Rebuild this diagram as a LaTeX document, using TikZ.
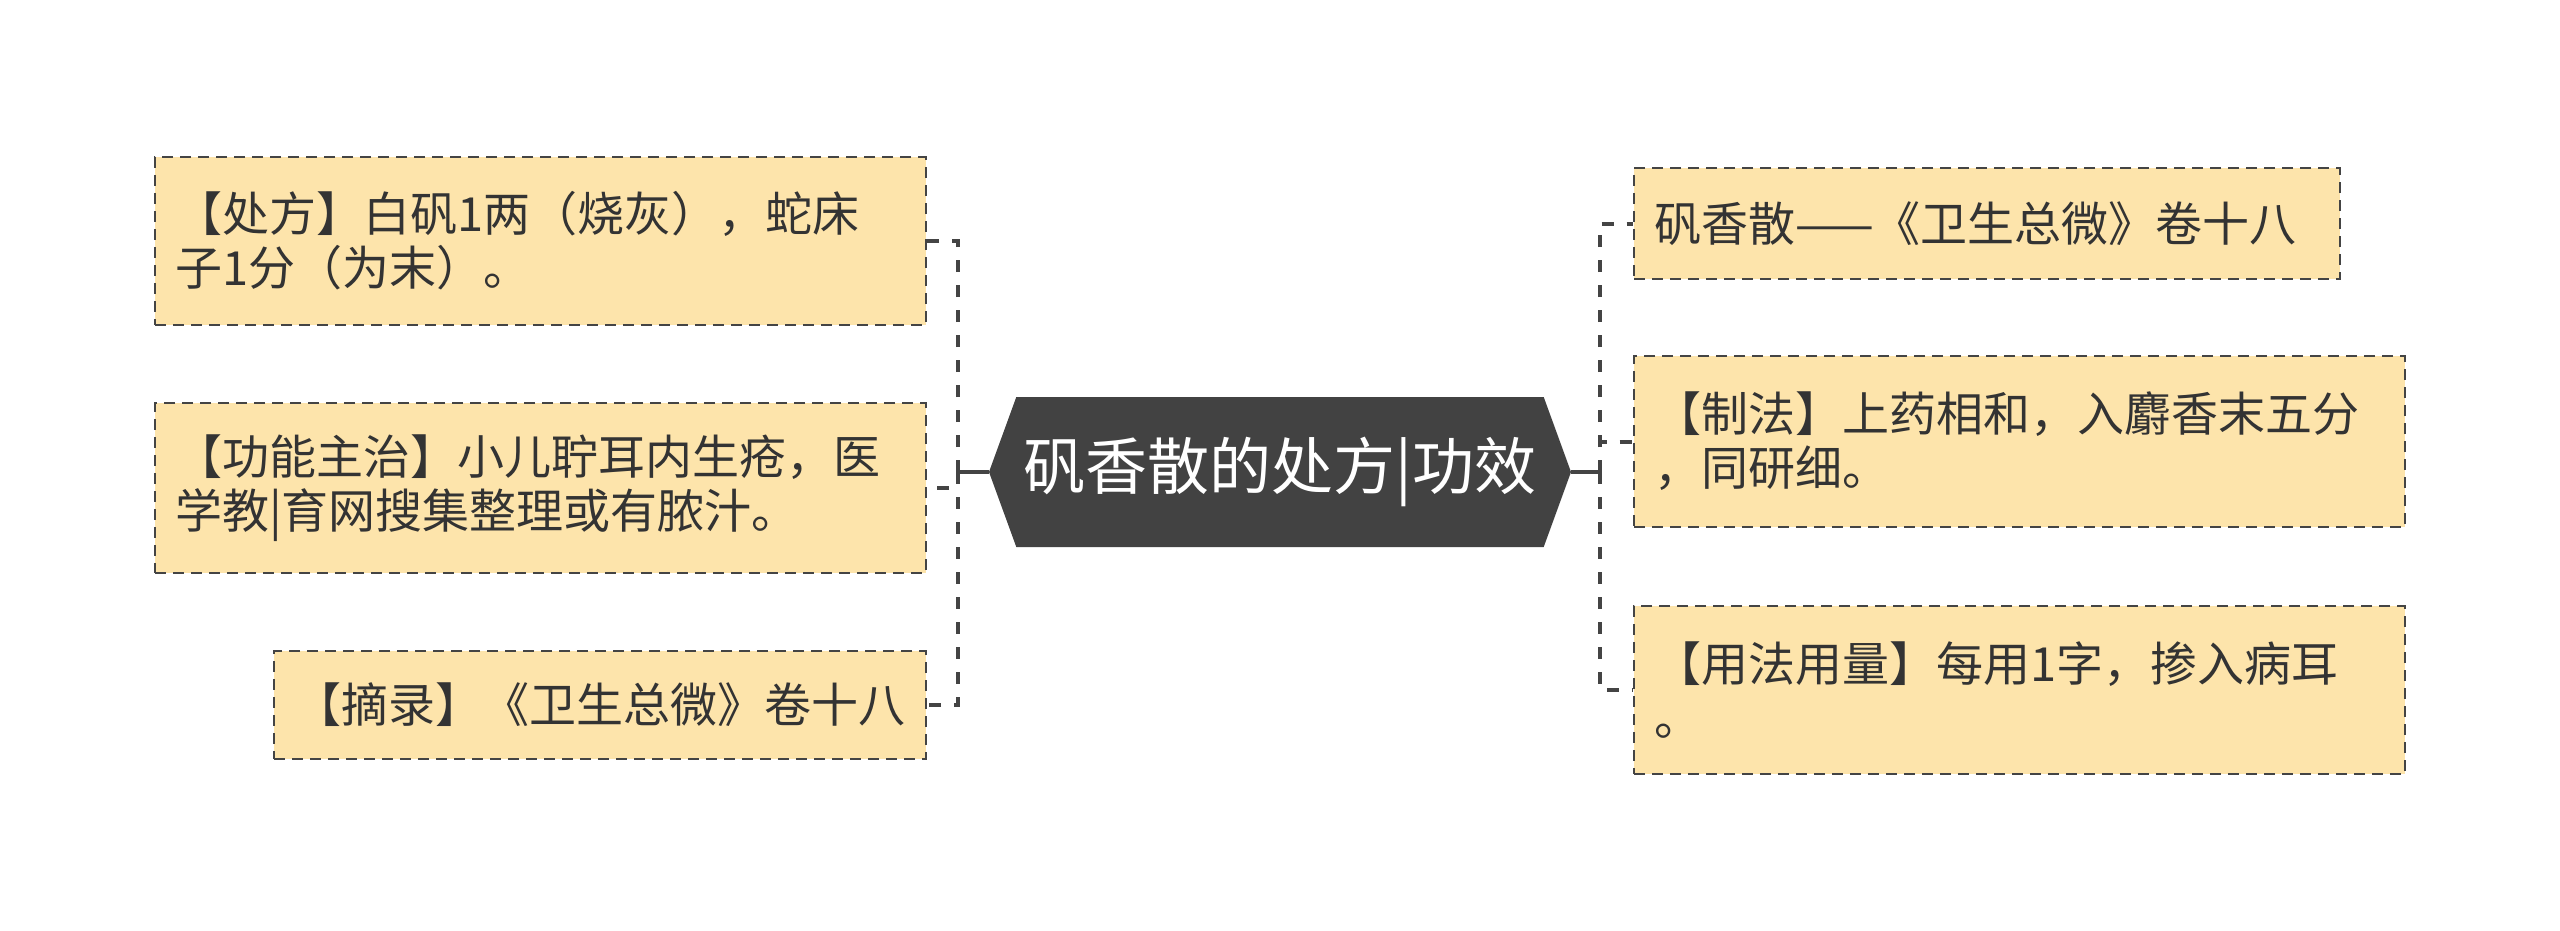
\documentclass[tikz,border=0pt]{standalone}
\usepackage{fontspec}
\setmainfont{Noto Sans CJK SC}
\usetikzlibrary{shapes.symbols}
\definecolor{boxfill}{HTML}{FDE4AB}
\definecolor{boxline}{HTML}{444444}
\definecolor{rootfill}{HTML}{424242}

\begin{document}
\begin{tikzpicture}[x=0.5pt, y=-0.5pt,
    leaf/.style={draw=boxline, fill=boxfill, line width=1.25pt,
      dash pattern=on 5.5pt off 3.5pt, inner xsep=10pt, inner ysep=0pt,
      align=left, text=black!80, font=\fontsize{23.5pt}{27pt}\selectfont},
    root/.style={signal, signal to=west and east, signal pointer angle=140,
      fill=rootfill, text=white, inner sep=0pt, minimum width=291pt,
      minimum height=75pt, font=\fontsize{31pt}{36pt}\selectfont},
    trunk/.style={draw=boxline, line width=2pt},
    branch/.style={draw=boxline, line width=2pt, dash pattern=on 6pt off 6.5pt}]
  \useasboundingbox (0,0) rectangle (2560,931);

  % the main topic in the middle
  \node[root] (root) at (1280,472) {矾香散的处方|功效};

  % left side
  \node[leaf, text width=365.5pt, minimum height=84pt] (chufang) at (540.5,241)
    {【处方】白矾1两（烧灰），蛇床\\子1分（为末）。};
  \node[leaf, text width=365.5pt, minimum height=85pt] (gongneng) at (540.5,488)
    {【功能主治】小儿聍耳内生疮，医\\学教|育网搜集整理或有脓汁。};
  \node[leaf, text width=306pt, minimum height=54pt] (zhailu) at (600,705)
    {【摘录】《卫生总微》卷十八};

  % right side
  \node[leaf, text width=333pt, minimum height=55.5pt] (fangming) at (1987,223.5)
    {矾香散——《卫生总微》卷十八};
  \node[leaf, text width=365.5pt, minimum height=85.5pt] (zhifa) at (2019.5,441.5)
    {【制法】上药相和，入麝香末五分\\，同研细。};
  \node[leaf, text width=365.5pt, minimum height=84pt] (yongfa) at (2019.5,690)
    {【用法用量】每用1字，掺入病耳\\。};

  % connectors
  \coordinate (ljoint) at (958,472);
  \coordinate (rjoint) at (1600,472);
  \draw[trunk] (root.west) -- (ljoint);
  \draw[trunk] (root.east) -- (rjoint);
  \foreach \n in {chufang, gongneng, zhailu}
    \draw[branch] (ljoint) |- (\n.east);
  \foreach \n in {fangming, zhifa, yongfa}
    \draw[branch] (rjoint) |- (\n.west);
\end{tikzpicture}
\end{document}
